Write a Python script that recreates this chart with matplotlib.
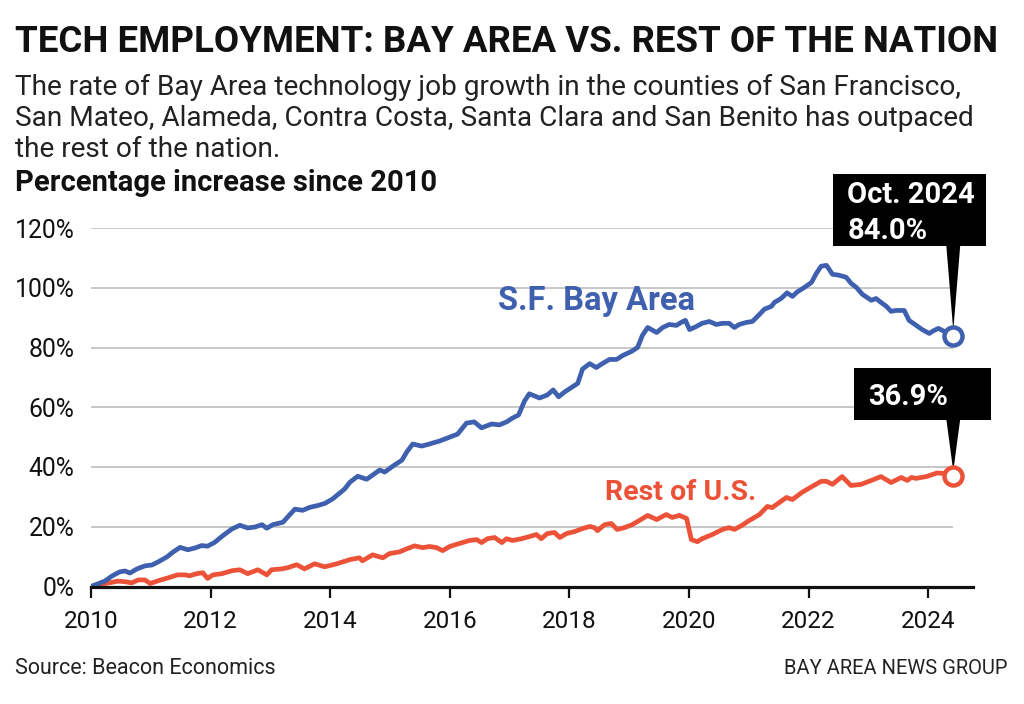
import matplotlib
matplotlib.use('Agg')
import matplotlib.pyplot as plt
from matplotlib.patches import Rectangle, Polygon

plt.rcParams['font.family'] = ['Roboto', 'DejaVu Sans']

# ---------------- data ----------------
bay_years = [2010.00, 2010.23, 2010.35, 2010.48, 2010.57, 2010.65, 2010.77, 2010.90,
             2011.02, 2011.12, 2011.27, 2011.37, 2011.49, 2011.62, 2011.74, 2011.85,
             2011.95, 2012.07, 2012.21, 2012.36, 2012.49, 2012.62, 2012.74, 2012.86,
             2012.94, 2013.04, 2013.21, 2013.29, 2013.41, 2013.54, 2013.66, 2013.79,
             2013.91, 2014.04, 2014.24, 2014.33, 2014.46, 2014.61, 2014.71, 2014.83,
             2014.91, 2015.05, 2015.20, 2015.28, 2015.38, 2015.53, 2015.66, 2015.83,
             2016.00, 2016.13, 2016.28, 2016.41, 2016.53, 2016.70, 2016.83, 2016.95,
             2017.05, 2017.15, 2017.25, 2017.33, 2017.50, 2017.63, 2017.73, 2017.82,
             2017.92, 2018.05, 2018.14, 2018.22, 2018.34, 2018.45, 2018.55, 2018.67,
             2018.79, 2018.89, 2019.04, 2019.14, 2019.22, 2019.31, 2019.46, 2019.56,
             2019.67, 2019.79, 2019.87, 2019.94, 2020.01, 2020.12, 2020.22, 2020.34,
             2020.46, 2020.56, 2020.67, 2020.76, 2020.84, 2020.96, 2021.06, 2021.18,
             2021.26, 2021.38, 2021.43, 2021.54, 2021.64, 2021.73, 2021.81, 2021.93,
             2022.05, 2022.13, 2022.21, 2022.30, 2022.40, 2022.51, 2022.63, 2022.71,
             2022.80, 2022.90, 2023.05, 2023.13, 2023.21, 2023.30, 2023.38, 2023.46,
             2023.60, 2023.68, 2023.80, 2023.90, 2024.02, 2024.07, 2024.17, 2024.27,
             2024.42]
bay_pct = [0.0, 1.8, 3.5, 4.9, 5.2, 4.5, 5.9, 6.9,
           7.2, 8.2, 9.9, 11.5, 13.1, 12.3, 12.9, 13.7,
           13.5, 14.8, 17.1, 19.3, 20.5, 19.6, 19.9, 20.7,
           19.5, 20.7, 21.5, 23.3, 25.9, 25.5, 26.5, 27.1,
           27.8, 29.3, 32.6, 34.9, 36.9, 35.9, 37.3, 39.0,
           38.3, 40.3, 42.3, 45.0, 47.7, 47.0, 47.7, 48.7,
           50.0, 51.0, 54.7, 55.1, 53.1, 54.4, 54.1, 55.1,
           56.4, 57.4, 62.1, 64.5, 63.1, 64.1, 65.8, 63.5,
           65.1, 66.8, 68.0, 72.8, 74.6, 73.3, 74.6, 76.0,
           76.0, 77.3, 78.7, 80.0, 84.0, 86.7, 85.0, 86.7,
           87.7, 87.4, 88.4, 89.1, 86.0, 87.0, 88.1, 88.7,
           87.7, 88.1, 88.1, 86.7, 87.7, 88.4, 88.7, 91.1,
           92.8, 93.8, 95.1, 96.4, 98.3, 97.1, 98.6, 100.1,
           101.8, 104.8, 107.2, 107.5, 104.5, 104.2, 103.5, 101.5,
           100.1, 97.8, 95.8, 96.4, 95.1, 93.8, 92.1, 92.4,
           92.4, 89.1, 87.4, 86.0, 84.7, 85.4, 86.4, 85.4,
           84.0]

us_years = [2010.00, 2010.18, 2010.35, 2010.45, 2010.57, 2010.68, 2010.79, 2010.90,
            2010.99, 2011.12, 2011.29, 2011.45, 2011.57, 2011.65, 2011.77, 2011.87,
            2011.95, 2012.04, 2012.19, 2012.36, 2012.49, 2012.62, 2012.79, 2012.94,
            2013.02, 2013.19, 2013.29, 2013.44, 2013.57, 2013.74, 2013.91, 2014.11,
            2014.33, 2014.49, 2014.54, 2014.71, 2014.88, 2014.99, 2015.16, 2015.28,
            2015.41, 2015.55, 2015.66, 2015.78, 2015.88, 2016.00, 2016.16, 2016.33,
            2016.45, 2016.53, 2016.63, 2016.75, 2016.87, 2016.95, 2017.05, 2017.20,
            2017.33, 2017.45, 2017.53, 2017.63, 2017.75, 2017.84, 2017.95, 2018.09,
            2018.22, 2018.34, 2018.42, 2018.47, 2018.59, 2018.70, 2018.80, 2018.92,
            2019.05, 2019.17, 2019.31, 2019.46, 2019.62, 2019.72, 2019.84, 2019.96,
            2020.04, 2020.14, 2020.22, 2020.39, 2020.56, 2020.67, 2020.76, 2020.88,
            2021.01, 2021.18, 2021.31, 2021.39, 2021.51, 2021.63, 2021.73, 2021.89,
            2022.06, 2022.21, 2022.30, 2022.40, 2022.56, 2022.71, 2022.88, 2023.05,
            2023.21, 2023.38, 2023.55, 2023.65, 2023.72, 2023.80, 2023.97, 2024.15,
            2024.30, 2024.42]
us_pct = [0.0, 0.8, 1.4, 1.8, 1.6, 1.2, 2.2, 2.2,
          1.0, 1.9, 2.9, 3.9, 3.9, 3.6, 4.3, 4.6,
          2.7, 3.9, 4.3, 5.3, 5.6, 4.3, 5.6, 3.9,
          5.6, 5.9, 6.3, 7.3, 5.9, 7.6, 6.6, 7.6,
          9.0, 9.6, 8.6, 10.6, 9.6, 11.0, 11.6, 12.6,
          13.6, 13.0, 13.4, 13.0, 12.0, 13.4, 14.4, 15.4,
          15.7, 14.7, 16.0, 16.4, 14.7, 16.0, 15.4, 16.0,
          16.7, 17.4, 16.0, 17.7, 18.1, 16.4, 17.7, 18.4,
          19.4, 20.1, 19.7, 18.7, 20.7, 21.1, 19.1, 19.7,
          20.7, 22.1, 23.8, 22.4, 24.1, 23.1, 23.8, 22.8,
          15.7, 15.0, 16.0, 17.4, 19.1, 19.7, 19.1, 20.4,
          22.1, 24.1, 26.8, 26.4, 28.1, 29.8, 29.1, 31.5,
          33.5, 35.2, 35.2, 34.2, 36.8, 33.8, 34.2, 35.5,
          36.8, 34.8, 36.5, 35.5, 36.5, 36.2, 36.8, 38.0,
          37.8, 36.9]

x_ticks = [2010, 2012, 2014, 2016, 2018, 2020, 2022, 2024]
y_ticks = [0, 20, 40, 60, 80, 100, 120]
y_ticklabels = ['0%', '20%', '40%', '60%', '80%', '100%', '120%']

title = 'TECH EMPLOYMENT: BAY AREA VS. REST OF THE NATION'
subtitle = ['The rate of Bay Area technology job growth in the counties of San Francisco,',
            'San Mateo, Alameda, Contra Costa, Santa Clara and San Benito has outpaced',
            'the rest of the nation.']
ylabel = 'Percentage increase since 2010'
source = 'Source: Beacon Economics'
credit = 'BAY AREA NEWS GROUP'
bay_name = 'S.F. Bay Area'
us_name = 'Rest of U.S.'
bay_end_label = ['Oct. 2024', '84.0%']
us_end_label = '36.9%'

BLUE = '#3e60ae'
RED = '#ec5238'
GRID = '#b8b8b8'

# ---------------- figure ----------------
W, H = 1024, 704
fig = plt.figure(figsize=(W / 100, H / 100), dpi=100)
ax = fig.add_axes([91 / W, (H - 586.5) / H, (973 - 91) / W, (586.5 - 228) / H])
ax.set_xlim(2010, 2024.75)
ax.set_ylim(0, 120)

for s in ['top', 'right', 'left']:
    ax.spines[s].set_visible(False)
ax.spines['bottom'].set_linewidth(2.3)
ax.spines['bottom'].set_color('#111111')
ax.spines['bottom'].set_zorder(6)

ax.set_xticks(x_ticks)
ax.set_xticklabels([str(t) for t in x_ticks])
ax.set_yticks(y_ticks)
ax.set_yticklabels(y_ticklabels)
ax.tick_params(axis='x', direction='out', length=8, width=1.6, color='#111111',
               pad=9, labelsize=17.5, labelcolor='#111111')
ax.tick_params(axis='y', length=0, pad=12, labelsize=17.8, labelcolor='#111111')

# gridlines (stop at last data point)
ax.hlines(y_ticks[1:], 2010, bay_years[-1], color=GRID, lw=1.1, zorder=1)

# lines
ax.plot(us_years, us_pct, color=RED, lw=3.4, solid_joinstyle='round',
        solid_capstyle='round', zorder=3)
ax.plot(bay_years, bay_pct, color=BLUE, lw=3.4, solid_joinstyle='round',
        solid_capstyle='round', zorder=3)

# series labels
ax.text(2016.80, 92.5, bay_name, color=BLUE, fontsize=23.5, fontweight='bold',
        ha='left', va='baseline')
ax.text(2018.6, 29.0, us_name, color=RED, fontsize=20.5, fontweight='bold',
        ha='left', va='baseline')

# callout boxes with pointers
px = 1 / 59.86          # one pixel in years
py = 1 / 2.985          # one pixel in percent

def callout(xe, ye, color, box_x0, box_x1, box_y0, box_y1, lines):
    ax.add_patch(Rectangle((box_x0, box_y0), box_x1 - box_x0, box_y1 - box_y0,
                           facecolor='black', edgecolor='none', zorder=7, clip_on=False))
    tri = Polygon([(xe - 7 * px, box_y0 + 0.5), (xe + 7 * px, box_y0 + 0.5),
                   (xe, ye + 5 * py)], closed=True, facecolor='black',
                  edgecolor='none', zorder=7, clip_on=False)
    ax.add_patch(tri)
    ax.plot([xe], [ye], 'o', ms=13, mfc='white', mec=color, mew=3.2, zorder=8,
            clip_on=False)
    n = len(lines)
    for i, t in enumerate(lines):
        ax.text(box_x0 + 14 * px, box_y1 - (box_y1 - box_y0) * (i + 0.5) / n - 1.0,
                t, color='white', fontsize=21, fontweight='bold', ha='left',
                va='center', zorder=9, clip_on=False)

xe, ye = bay_years[-1], bay_pct[-1]
callout(xe, ye, BLUE, xe - 120 * px, xe + 33 * px, ye + 89 * py, ye + 161 * py,
        bay_end_label)
xe2, ye2 = us_years[-1], us_pct[-1]
callout(xe2, ye2, RED, xe2 - 99 * px, xe2 + 38 * px, ye2 + 56 * py, ye2 + 108 * py,
        [us_end_label])

# ---------------- texts ----------------
fig.text(15 / W, 1 - 52 / H, title, fontsize=26.4, fontweight='bold',
         color='#111111', ha='left', va='baseline')
for i, line in enumerate(subtitle):
    fig.text(15 / W, 1 - (95 + 31 * i) / H, line, fontsize=20.2,
             color='#222222', ha='left', va='baseline')
fig.text(15 / W, 1 - 191 / H, ylabel, fontsize=21, fontweight='bold',
         color='#111111', ha='left', va='baseline')
fig.text(15 / W, 1 - 674 / H, source, fontsize=15.5, color='#222222',
         ha='left', va='baseline')
fig.text(1008 / W, 1 - 674 / H, credit, fontsize=14.5, color='#222222',
         ha='right', va='baseline')

fig.savefig('out.png', dpi=100, facecolor='white')
